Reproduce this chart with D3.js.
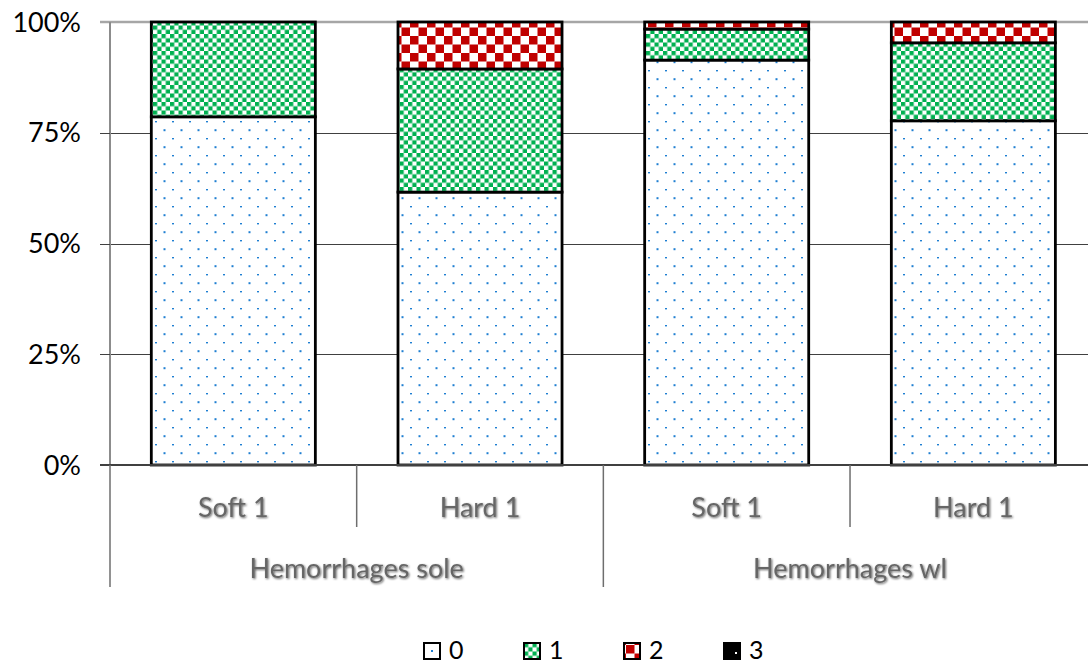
<!DOCTYPE html>
<html>
<head>
<meta charset="utf-8">
<script src="https://cdn.jsdelivr.net/npm/d3@7"></script>
<style>
  html, body { margin: 0; padding: 0; background: #fff; }
  svg { display: block; }
  text { font-family: Lato, "Open Sans", sans-serif; }
</style>
</head>
<body>
<svg id="chart" width="1088" height="665"></svg>
<script>
// Groups and their sub-categories along the x axis
const groups = ["Hemorrhages sole", "Hemorrhages wl"];
const subLabels = ["Soft 1", "Hard 1", "Soft 1", "Hard 1"];
const groupOf = [0, 0, 1, 1];

// Share of each score (0..3) per bar
const series0 = [0.786, 0.616, 0.914, 0.777];
const series1 = [0.214, 0.278, 0.070, 0.176];
const series2 = [0.000, 0.106, 0.016, 0.047];
const series3 = [0.000, 0.000, 0.000, 0.000];

const seriesKeys = ["0", "1", "2", "3"];
const yTicks = [0, 0.25, 0.5, 0.75, 1];

const rows = subLabels.map((s, i) => ({
  id: i, "0": series0[i], "1": series1[i], "2": series2[i], "3": series3[i]
}));

const svg = d3.select("#chart");
const plotLeft = 110, plotRight = 1096.7, plotTop = 22, plotBottom = 465;

const x = d3.scaleBand()
  .domain(rows.map(d => d.id))
  .range([plotLeft, plotRight])
  .paddingInner(0.335)
  .paddingOuter(0.1675);
const y = d3.scaleLinear().domain([0, 1]).range([plotBottom, plotTop]);

// Fill patterns
const defs = svg.append("defs");

const pDots = defs.append("pattern").attr("id", "pat0")
  .attr("patternUnits", "userSpaceOnUse").attr("width", 17).attr("height", 17)
  .attr("x", 152).attr("y", 0);
pDots.append("rect").attr("width", 17).attr("height", 17).attr("fill", "#fff");
pDots.append("rect").attr("x", 3).attr("y", 2).attr("width", 2).attr("height", 1.4).attr("fill", "#1f7fd2");
pDots.append("rect").attr("x", 11.5).attr("y", 10.2).attr("width", 2).attr("height", 2).attr("fill", "#1f7fd2");

const pGreen = defs.append("pattern").attr("id", "pat1")
  .attr("patternUnits", "userSpaceOnUse").attr("width", 8.5).attr("height", 8.5);
pGreen.append("rect").attr("width", 8.5).attr("height", 8.5).attr("fill", "#fff");
pGreen.append("rect").attr("width", 4.25).attr("height", 4.25).attr("fill", "#00b050");
pGreen.append("rect").attr("x", 4.25).attr("y", 4.25).attr("width", 4.25).attr("height", 4.25).attr("fill", "#00b050");

const pRed = defs.append("pattern").attr("id", "pat2")
  .attr("patternUnits", "userSpaceOnUse").attr("width", 17).attr("height", 17)
  .attr("x", 2).attr("y", 2);
pRed.append("rect").attr("width", 17).attr("height", 17).attr("fill", "#fff");
pRed.append("rect").attr("width", 8.5).attr("height", 8.5).attr("fill", "#c00000");
pRed.append("rect").attr("x", 8.5).attr("y", 8.5).attr("width", 8.5).attr("height", 8.5).attr("fill", "#c00000");

const pBlack = defs.append("pattern").attr("id", "pat3")
  .attr("patternUnits", "userSpaceOnUse").attr("width", 17).attr("height", 17);
pBlack.append("rect").attr("width", 17).attr("height", 17).attr("fill", "#000");
pBlack.append("rect").attr("x", 11).attr("y", 9).attr("width", 2).attr("height", 2).attr("fill", "#fff");

// Legend swatch for the dotted fill
const lDots = defs.append("pattern").attr("id", "leg0")
  .attr("patternUnits", "objectBoundingBox").attr("width", 1).attr("height", 1);
lDots.append("rect").attr("width", 16).attr("height", 16).attr("fill", "#fff");
lDots.append("rect").attr("x", 7).attr("y", 7).attr("width", 2).attr("height", 2).attr("fill", "#1f7fd2");

// Horizontal gridlines
svg.append("g").selectAll("line").data(yTicks.filter(t => t > 0 && t < 1)).join("line")
  .attr("x1", plotLeft).attr("x2", 1088)
  .attr("y1", d => Math.round(y(d)) + 0.5).attr("y2", d => Math.round(y(d)) + 0.5)
  .attr("stroke", "#404040").attr("stroke-width", 1);
svg.append("line")
  .attr("x1", 100).attr("x2", 1088).attr("y1", y(1)).attr("y2", y(1))
  .attr("stroke", "#a6a6a6").attr("stroke-width", 2.5);

// Stacked bars
const stacked = d3.stack().keys(seriesKeys)(rows);
const barG = svg.append("g");
stacked.forEach((layer, li) => {
  barG.append("g").selectAll("rect")
    .data(layer.filter(d => d[1] - d[0] > 0))
    .join("rect")
    .attr("x", d => x(d.data.id))
    .attr("width", x.bandwidth())
    .attr("y", d => y(d[1]))
    .attr("height", d => y(d[0]) - y(d[1]))
    .attr("fill", `url(#pat${li})`)
    .attr("stroke", "#000")
    .attr("stroke-width", 2.8);
});

// Value axis
const yAxisG = svg.append("g");
yAxisG.append("line").attr("x1", plotLeft).attr("x2", plotLeft).attr("y1", plotTop).attr("y2", plotBottom)
  .attr("stroke", "#8c8c8c").attr("stroke-width", 2);
yAxisG.selectAll("line.tick").data(yTicks.filter(t => t < 1)).join("line")
  .attr("class", "tick")
  .attr("x1", 100).attr("x2", plotLeft)
  .attr("y1", d => Math.round(y(d)) + 0.5).attr("y2", d => Math.round(y(d)) + 0.5)
  .attr("stroke", "#404040").attr("stroke-width", 1);
yAxisG.selectAll("text").data(yTicks).join("text")
  .attr("x", 81).attr("y", d => y(d))
  .attr("dy", "0.36em")
  .attr("text-anchor", "end")
  .attr("font-size", 27)
  .attr("fill", "#000")
  .text(d => d3.format(".0%")(d));

// Category axis: baseline, separators and two-level labels
const step = x.step();
const catG = svg.append("g");
catG.append("line").attr("x1", 100).attr("x2", 1088).attr("y1", plotBottom).attr("y2", plotBottom)
  .attr("stroke", "#404040").attr("stroke-width", 2);

const sepData = d3.range(rows.length + 1).map(i => ({
  x: plotLeft + i * step,
  long: i % 2 === 0
})).filter(d => d.x < 1088);
catG.selectAll("line.sep").data(sepData).join("line")
  .attr("class", "sep")
  .attr("x1", d => d.x).attr("x2", d => d.x)
  .attr("y1", plotBottom).attr("y2", d => d.long ? 587 : 527)
  .attr("stroke", "#6e6e6e").attr("stroke-width", 1.5);

const shadow = defs.append("filter").attr("id", "txtShadow")
  .attr("x", "-10%").attr("y", "-20%").attr("width", "130%").attr("height", "150%");
shadow.append("feDropShadow").attr("dx", 1).attr("dy", 1).attr("stdDeviation", 0.9)
  .attr("flood-color", "#000").attr("flood-opacity", 0.6);

catG.selectAll("text.sub").data(rows).join("text")
  .attr("class", "sub")
  .attr("x", d => x(d.id) + x.bandwidth() / 2)
  .attr("y", 507).attr("dy", "0.36em")
  .attr("text-anchor", "middle")
  .attr("font-size", 27)
  .attr("fill", "#666")
  .attr("filter", "url(#txtShadow)")
  .text(d => subLabels[d.id]);

catG.selectAll("text.grp").data(groups).join("text")
  .attr("class", "grp")
  .attr("x", (g, gi) => {
    const ids = rows.filter(r => groupOf[r.id] === gi).map(r => r.id);
    const x0 = plotLeft + d3.min(ids) * step, x1 = plotLeft + (d3.max(ids) + 1) * step;
    return (x0 + x1) / 2;
  })
  .attr("y", 568).attr("dy", "0.36em")
  .attr("text-anchor", "middle")
  .attr("font-size", 27)
  .attr("fill", "#666")
  .attr("filter", "url(#txtShadow)")
  .text(d => d);

// Legend
const legG = svg.append("g");
const legFills = ["url(#leg0)", "url(#pat1)", "url(#pat2)", "url(#pat3)"];
const legItems = legG.selectAll("g").data(seriesKeys).join("g")
  .attr("transform", (d, i) => `translate(${424 + i * 100},643)`);
legItems.append("rect")
  .attr("width", 16).attr("height", 16)
  .attr("fill", (d, i) => legFills[i])
  .attr("stroke", "#000").attr("stroke-width", 2);
legItems.append("text")
  .attr("x", 25).attr("y", 16)
  .attr("font-size", 25)
  .attr("fill", "#000")
  .text(d => d);
</script>
</body>
</html>
